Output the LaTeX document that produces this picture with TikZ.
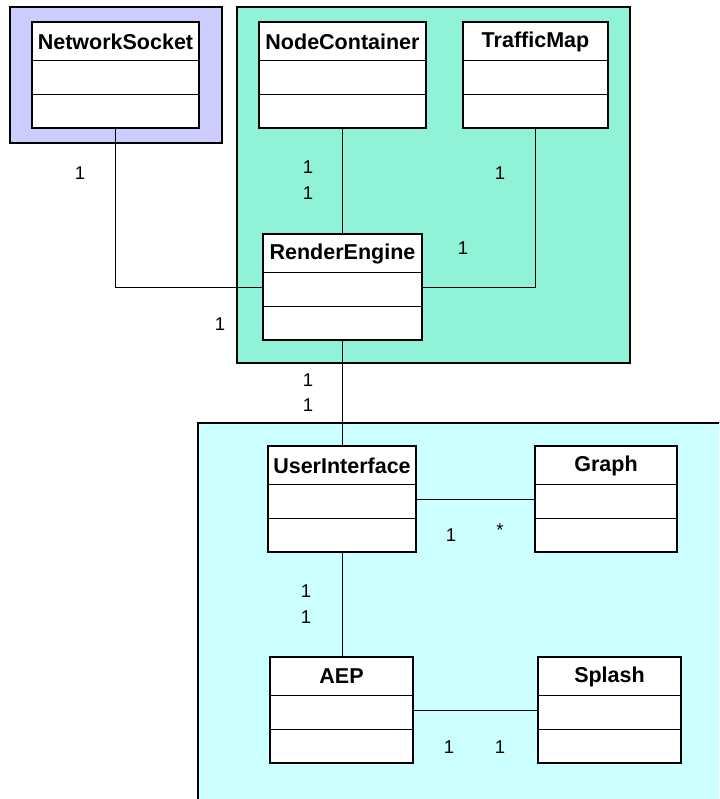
\documentclass[tikz,border=0pt]{standalone}
\usepackage{fontspec}
\setmainfont{Liberation Sans}
\usetikzlibrary{calc}

\definecolor{pkglavender}{HTML}{CCCCFF}
\definecolor{pkgmint}{HTML}{90F2D6}
\definecolor{pkgcyan}{HTML}{CCFFFF}

\tikzset{
  pkg/.style={draw=black, line width=1.3pt, inner sep=0pt, outer sep=0pt},
  classbox/.style={draw=black, fill=white, line width=1.8pt, inner sep=0pt, outer sep=0pt},
  divider/.style={draw=black, line width=1.8pt},
  classtitle/.style={font=\fontsize{21.5}{25}\selectfont\bfseries, inner sep=0pt},
  assoc/.style={draw=black, line width=1pt},
  mult/.style={font=\fontsize{18.5}{22}\selectfont, inner sep=0pt},
}

% UML class box: name, left, top, right, bottom, title
\newcommand\umlclass[6]{%
  \node[classbox, minimum width={#4-#2}, minimum height={#5-#3}] (#1) at ({(#2+#4)/2},{(#3+#5)/2}) {};
  \draw[divider] ($(#1.north west)+(0,38.5)$) -- ($(#1.north east)+(0,38.5)$);
  \draw[divider] ($(#1.north west)+(0,72.5)$) -- ($(#1.north east)+(0,72.5)$);
  \node[classtitle] (#1-title) at ($(#1.north)+(0,19.5)$) {#6};
}

\begin{document}
\begin{tikzpicture}[x=1pt,y=-1pt]
  \useasboundingbox (0,0) rectangle (719,799);
  \clip (0,0) rectangle (719,799);

  % packages
  \node[pkg, fill=pkglavender, minimum width=212, minimum height=136] (pkgnet) at (116,75) {};
  \node[pkg, fill=pkgmint, minimum width=393, minimum height=356] (pkgcore) at (433.5,185) {};
  \node[pkg, fill=pkgcyan, minimum width=540, minimum height=400] (pkgui) at (468,623) {};

  % classes
  \umlclass{ns}{32}{22}{199}{128}{NetworkSocket}
  \umlclass{nc}{259}{22}{426}{128}{NodeContainer}
  \umlclass{tm}{463}{22}{608}{128}{TrafficMap}
  \umlclass{re}{263}{234}{422}{340}{RenderEngine}
  \umlclass{ui}{268}{446}{416}{552}{UserInterface}
  \umlclass{gr}{535}{446}{677}{552}{Graph}
  \umlclass{aep}{270}{657}{413}{763}{AEP}
  \umlclass{sp}{538}{657}{681}{763}{Splash}

  % associations
  \draw[assoc] (ns.south) |- (re.west);
  \draw[assoc] (nc.south) -- (re.north);
  \draw[assoc] (tm.south) |- (re.east);
  \draw[assoc] (re.south) -- (re.south |- ui.north);
  \draw[assoc] (ui.east) -- (gr.west);
  \draw[assoc] (ui.south) -- (ui.south |- aep.north);
  \draw[assoc] (aep.east) -- (sp.west);

  % multiplicities
  \node[mult] (m1) at (80,173) {1};
  \node[mult] (m2) at (220,324) {1};
  \node[mult] (m3) at (308,167) {1};
  \node[mult] (m4) at (308,193) {1};
  \node[mult] (m5) at (500,173) {1};
  \node[mult] (m6) at (463,248) {1};
  \node[mult] (m7) at (308,380) {1};
  \node[mult] (m8) at (308,405) {1};
  \node[mult] (m9) at (451,535) {1};
  \node[mult] (m10) at (500,530) {*};
  \node[mult] (m11) at (306,591) {1};
  \node[mult] (m12) at (306,617) {1};
  \node[mult] (m13) at (449,747) {1};
  \node[mult] (m14) at (500,747) {1};
\end{tikzpicture}
\end{document}
